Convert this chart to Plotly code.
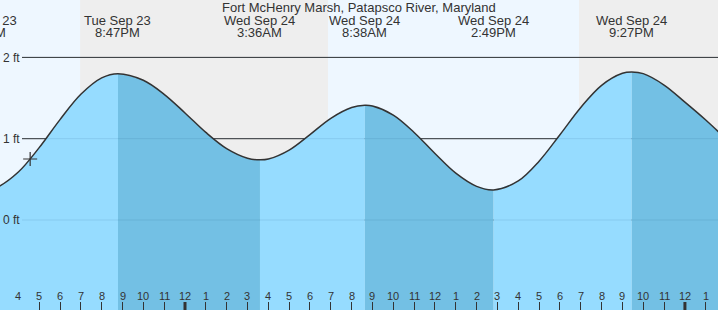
import plotly.graph_objects as go
import pandas as pd

# ---------------- data ----------------
title = "Fort McHenry Marsh, Patapsco River, Maryland"

curve_times = [
    "2025-09-23 14:21", "2025-09-23 15:00", "2025-09-23 16:00", "2025-09-23 17:00",
    "2025-09-23 18:00", "2025-09-23 19:00", "2025-09-23 20:00", "2025-09-23 20:47",
    "2025-09-23 22:00", "2025-09-23 23:00", "2025-09-24 00:00",
    "2025-09-24 01:00", "2025-09-24 02:00", "2025-09-24 03:00", "2025-09-24 03:36",
    "2025-09-24 04:00", "2025-09-24 05:00", "2025-09-24 06:00", "2025-09-24 07:00",
    "2025-09-24 08:00", "2025-09-24 08:38", "2025-09-24 09:00", "2025-09-24 10:00",
    "2025-09-24 11:00", "2025-09-24 12:00", "2025-09-24 13:00", "2025-09-24 14:00",
    "2025-09-24 14:49", "2025-09-24 16:00", "2025-09-24 17:00",
    "2025-09-24 18:00", "2025-09-24 19:00", "2025-09-24 20:00", "2025-09-24 21:00",
    "2025-09-24 21:27", "2025-09-24 22:00", "2025-09-24 23:00", "2025-09-25 00:00",
    "2025-09-25 01:00", "2025-09-25 02:00",
]
curve_heights = [
    0.37, 0.406, 0.590, 0.890,
    1.235, 1.546, 1.748, 1.80,
    1.719, 1.546, 1.317,
    1.077, 0.878, 0.760, 0.74,
    0.750, 0.860, 1.051, 1.251,
    1.384, 1.41, 1.401, 1.290,
    1.077, 0.818, 0.576, 0.414,
    0.37, 0.481, 0.724,
    1.049, 1.384, 1.656, 1.804,
    1.82, 1.80, 1.66, 1.45,
    1.23, 0.99,
]

ext_times = ["2025-09-23 14:21", "2025-09-23 20:47", "2025-09-24 03:36",
             "2025-09-24 08:38", "2025-09-24 14:49", "2025-09-24 21:27"]
ext_heights = [0.37, 1.80, 0.74, 1.41, 0.37, 1.82]
ext_dates = ["Tue Sep 23", "Tue Sep 23", "Wed Sep 24", "Wed Sep 24", "Wed Sep 24", "Wed Sep 24"]
ext_clock = ["2:21PM", "8:47PM", "3:36AM", "8:38AM", "2:49PM", "9:27PM"]

night_start = ["2025-09-23 18:58", "2025-09-24 18:55"]
night_end = ["2025-09-24 06:52", "2025-09-25 06:51"]

now_time = ["2025-09-23 16:34"]
now_height = [0.75]

hour_ticks = [
    "2025-09-23 16:00", "2025-09-23 17:00", "2025-09-23 18:00", "2025-09-23 19:00",
    "2025-09-23 20:00", "2025-09-23 21:00", "2025-09-23 22:00", "2025-09-23 23:00",
    "2025-09-24 00:00", "2025-09-24 01:00", "2025-09-24 02:00", "2025-09-24 03:00",
    "2025-09-24 04:00", "2025-09-24 05:00", "2025-09-24 06:00", "2025-09-24 07:00",
    "2025-09-24 08:00", "2025-09-24 09:00", "2025-09-24 10:00", "2025-09-24 11:00",
    "2025-09-24 12:00", "2025-09-24 13:00", "2025-09-24 14:00", "2025-09-24 15:00",
    "2025-09-24 16:00", "2025-09-24 17:00", "2025-09-24 18:00", "2025-09-24 19:00",
    "2025-09-24 20:00", "2025-09-24 21:00", "2025-09-24 22:00", "2025-09-24 23:00",
    "2025-09-25 00:00", "2025-09-25 01:00",
]
hour_labels = ["4", "5", "6", "7", "8", "9", "10", "11",
               "12", "1", "2", "3", "4", "5", "6", "7", "8", "9", "10", "11",
               "12", "1", "2", "3", "4", "5", "6", "7", "8", "9", "10", "11",
               "12", "1"]
midnights = ["2025-09-24 00:00", "2025-09-25 00:00"]

grid_values = [0, 1, 2]
grid_labels = ["0 ft", "1 ft", "2 ft"]

x_range = ["2025-09-23 15:07:08", "2025-09-25 01:35:17"]
y_range = [-1.107, 2.706]

# ---------------- styles ----------------
W, H = 718, 310
DAY = "#eef7ff"
NIGHT = "#eeeeee"
RISE = "#96dcff"
FALL = "#73c0e4"
INK = "#333333"
FONT = "Liberation Sans, Arial, sans-serif"

ct = pd.to_datetime(curve_times)
et = pd.to_datetime(ext_times)
r0, r1 = pd.to_datetime(x_range[0]), pd.to_datetime(x_range[1])


def frac(t):
    return (pd.to_datetime(t) - r0) / (r1 - r0)


fig = go.Figure()

# filled segments between consecutive extremes (rising light, falling dark)
bounds = list(et) + [ct[-1]]
for i in range(len(bounds) - 1):
    ta, tb = bounds[i], bounds[i + 1]
    mask = (ct >= ta) & (ct <= tb)
    xs = [str(v) for v in ct[mask]]
    ys = [h for h, m in zip(curve_heights, mask) if m]
    color = RISE if ys[-1] > ys[0] else FALL
    fig.add_trace(go.Scatter(x=[xs[0], xs[-1]], y=[y_range[0] - 0.2] * 2, mode="lines",
                             line=dict(width=0), hoverinfo="skip", showlegend=False))
    fig.add_trace(go.Scatter(x=xs, y=ys, mode="lines", fill="tonexty", fillcolor=color,
                             line=dict(width=0, shape="spline"), hoverinfo="skip",
                             showlegend=False))

# tide line
fig.add_trace(go.Scatter(x=curve_times, y=curve_heights, mode="lines",
                         line=dict(color=INK, width=1.5, shape="spline"),
                         hoverinfo="skip", showlegend=False))

# current-time marker
fig.add_trace(go.Scatter(x=now_time, y=now_height, mode="markers",
                         marker=dict(symbol="cross-thin", size=10,
                                     line=dict(color=INK, width=1.2)),
                         hoverinfo="skip", showlegend=False))

shapes = []
for s, e in zip(night_start, night_end):
    shapes.append(dict(type="rect", xref="x", yref="paper", x0=s, x1=e, y0=0, y1=1,
                       fillcolor=NIGHT, line=dict(width=0), layer="below"))
for g in grid_values:
    shapes.append(dict(type="line", xref="paper", yref="y", x0=22 / W, x1=1, y0=g, y1=g,
                       line=dict(color=INK, width=1), layer="below"))
    shapes.append(dict(type="line", xref="paper", yref="y", x0=22 / W, x1=1, y0=g, y1=g,
                       line=dict(color="rgba(0,60,100,0.10)", width=1), layer="above"))
for m in midnights:
    shapes.append(dict(type="line", xref="x", yref="paper", x0=m, x1=m, y0=0, y1=8 / H,
                       line=dict(color=INK, width=3), layer="above"))

annotations = [dict(text=title, xref="paper", yref="paper", x=0.5, y=1, yanchor="middle",
                    yshift=-7.5, showarrow=False, font=dict(size=13, color=INK, family=FONT))]
for t, d, c in zip(ext_times, ext_dates, ext_clock):
    fx = frac(t)
    annotations.append(dict(text=d, xref="paper", yref="paper", x=fx, y=1, xanchor="center",
                            yanchor="middle", yshift=-20, showarrow=False,
                            font=dict(size=13, color=INK, family=FONT)))
    annotations.append(dict(text=c, xref="paper", yref="paper", x=fx, y=1, xanchor="center",
                            yanchor="middle", yshift=-32.5, showarrow=False,
                            font=dict(size=13, color=INK, family=FONT)))
for t, lab in zip(hour_ticks, hour_labels):
    annotations.append(dict(text=lab, xref="x", yref="paper", x=t, y=0, xanchor="center",
                            yanchor="middle", yshift=14, showarrow=False,
                            font=dict(size=11, color=INK, family=FONT)))

fig.update_layout(
    width=W, height=H, autosize=False,
    margin=dict(l=0, r=0, t=0, b=0, pad=0),
    paper_bgcolor=DAY, plot_bgcolor=DAY,
    shapes=shapes, annotations=annotations,
    font=dict(family=FONT, color=INK),
    xaxis=dict(type="date", range=x_range, showgrid=False, zeroline=False, showline=False,
               tickmode="array", tickvals=hour_ticks, showticklabels=False,
               ticks="inside", ticklen=8, tickwidth=1, tickcolor=INK),
    yaxis=dict(range=y_range, showgrid=False, zeroline=False, showline=False,
               tickmode="array", tickvals=grid_values, ticktext=grid_labels,
               ticks="", ticklabelposition="inside",
               tickfont=dict(size=12, color=INK, family=FONT)),
)

fig.write_html("out.html")
